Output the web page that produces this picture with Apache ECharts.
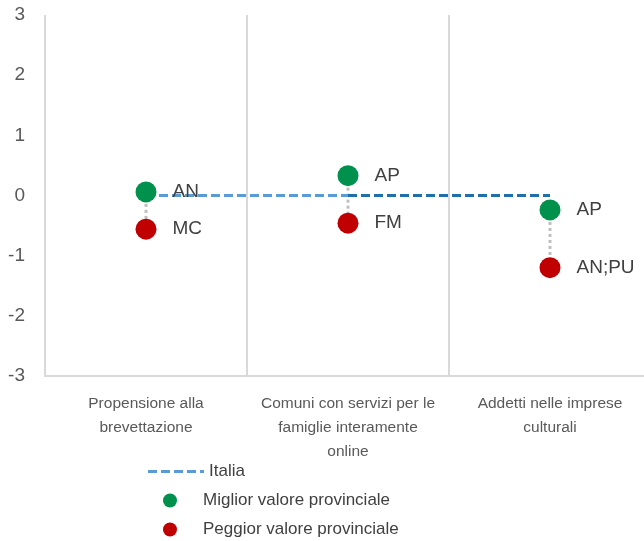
<!DOCTYPE html>
<html>
<head>
<meta charset="utf-8">
<script src="https://cdn.jsdelivr.net/npm/echarts@6/dist/echarts.min.js"></script>
<style>
  html, body { margin: 0; padding: 0; background: #fff; overflow: hidden; }
  #chart { width: 652px; height: 541px; }
</style>
</head>
<body>
<div id="chart"></div>
<script>
// indicatori
var categories = [
  "Propensione alla\nbrevettazione",
  "Comuni con servizi per le\nfamiglie interamente\nonline",
  "Addetti nelle imprese\nculturali"
];
var italia = [0, 0, 0];
var bestVal = [0.06, 0.33, -0.24];
var worstVal = [-0.56, -0.46, -1.2];
var bestProv = ["AN", "AP", "AP"];
var worstProv = ["MC", "FM", "AN;PU"];
var yTicks = { min: -3, max: 3, step: 1 };

var font = "'Liberation Sans Narrow', 'Arial Narrow', 'Liberation Sans', Arial, sans-serif";
var legendText = { fontFamily: font, fontSize: 17, color: "#404040" };

var chart = echarts.init(document.getElementById("chart"));

var rangeData = categories.map(function(c, i) {
  return [i, bestVal[i], worstVal[i]];
});

// tratteggio per l'icona della legenda "Italia"
var dashIcon = "path://M0,0h9v3h-9z M13,0h9v3h-9z M26,0h9v3h-9z M39,0h9v3h-9z M52,0h4v3h-4z";

var option = {
  animation: false,
  textStyle: { fontFamily: font },
  grid: { left: 45, top: 15, width: 606, height: 361 },
  legend: [
    {
      left: 143, top: 458, itemWidth: 56, itemHeight: 3,
      data: [{ name: "Italia", icon: dashIcon }],
      textStyle: legendText
    },
    {
      left: 158, top: 487, itemWidth: 56, itemHeight: 14,
      data: [{ name: "Miglior valore provinciale", icon: "circle" }],
      textStyle: legendText
    },
    {
      left: 158, top: 516, itemWidth: 56, itemHeight: 14,
      data: [{ name: "Peggior valore provinciale", icon: "circle" }],
      textStyle: legendText
    }
  ],
  xAxis: {
    type: "category",
    data: categories,
    boundaryGap: true,
    axisLine: { onZero: false, lineStyle: { color: "#d9d9d9", width: 2 } },
    axisTick: { show: false },
    splitLine: { show: true, interval: 0, lineStyle: { color: "#d9d9d9", width: 2 } },
    axisLabel: {
      interval: 0,
      margin: 16,
      fontFamily: font,
      fontSize: 15.5,
      lineHeight: 24,
      color: "#595959",
      align: "center"
    }
  },
  yAxis: {
    type: "value",
    min: yTicks.min,
    max: yTicks.max,
    interval: yTicks.step,
    axisLine: { show: false },
    axisTick: { show: false },
    splitLine: { show: false },
    axisLabel: { margin: 20, fontFamily: font, fontSize: 19, color: "#595959" }
  },
  series: [
    {
      name: "range",
      type: "custom",
      z: 1,
      data: rangeData,
      encode: { x: 0, y: [1, 2] },
      renderItem: function(params, api) {
        var a = api.coord([api.value(0), api.value(1)]);
        var b = api.coord([api.value(0), api.value(2)]);
        return {
          type: "line",
          shape: { x1: a[0], y1: a[1], x2: b[0], y2: b[1] },
          style: { stroke: "#bfbfbf", lineWidth: 3, lineDash: [3, 3] }
        };
      }
    },
    {
      name: "Italia",
      type: "line",
      z: 2,
      symbol: "none",
      data: [italia[0], italia[1], null],
      lineStyle: { color: "#5b9bd5", width: 3, type: [9, 4] },
      itemStyle: { color: "#5b9bd5" }
    },
    {
      name: "Italia2",
      type: "line",
      z: 2,
      symbol: "none",
      data: [null, italia[1], italia[2]],
      lineStyle: { color: "#1f6fab", width: 3, type: [9, 4] },
      itemStyle: { color: "#1f6fab" }
    },
    {
      name: "Miglior valore provinciale",
      type: "scatter",
      z: 3,
      symbolSize: 21,
      itemStyle: { color: "#00914c", opacity: 1 },
      data: bestVal,
      label: {
        show: true,
        position: "right",
        distance: 16,
        fontFamily: font,
        fontSize: 19,
        color: "#404040",
        formatter: function(p) { return bestProv[p.dataIndex]; }
      }
    },
    {
      name: "Peggior valore provinciale",
      type: "scatter",
      z: 3,
      symbolSize: 21,
      itemStyle: { color: "#c00000", opacity: 1 },
      data: worstVal,
      label: {
        show: true,
        position: "right",
        distance: 16,
        fontFamily: font,
        fontSize: 19,
        color: "#404040",
        formatter: function(p) { return worstProv[p.dataIndex]; }
      }
    }
  ]
};

chart.setOption(option);
</script>
</body>
</html>
